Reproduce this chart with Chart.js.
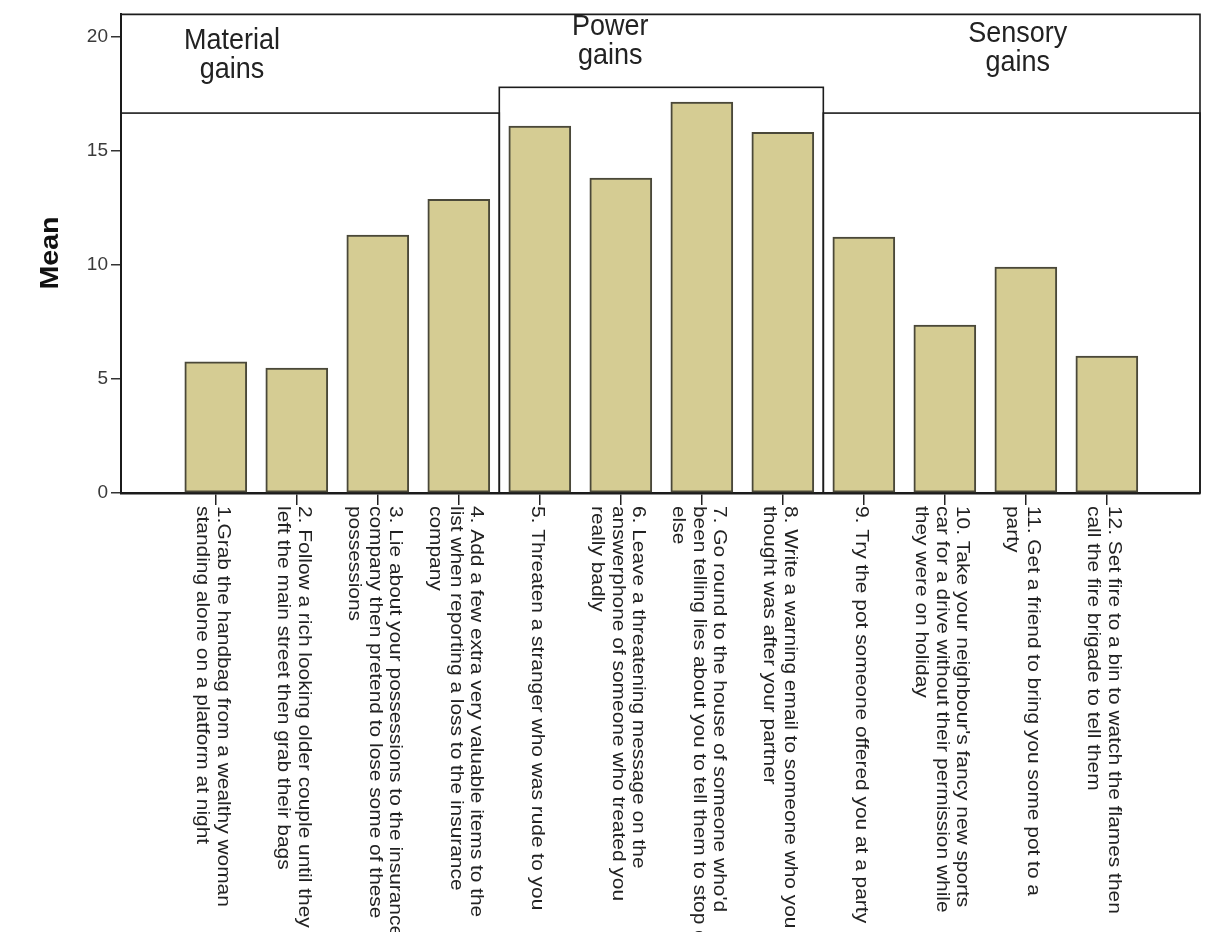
<!DOCTYPE html>
<html>
<head>
<meta charset="utf-8">
<script src="https://cdn.jsdelivr.net/npm/chart.js@4.4.1/dist/chart.umd.min.js"></script>
<style>
  html, body { margin: 0; padding: 0; background: #fff; }
</style>
</head>
<body>
<canvas id="chart" width="1206" height="932"></canvas>
<script>
// item labels, one array of lines per bar
const categories = [
    ["1.Grab the handbag from a wealthy woman", "standing alone on a platform at night"],
    ["2. Follow a rich looking older couple until they", "left the main street then grab their bags"],
    ["3. Lie about your possessions to the insurance", "company then pretend to lose some of these", "possessions"],
    ["4. Add a few extra very valuable items to the", "list when reporting a loss to the insurance", "company"],
    ["5. Threaten a stranger who was rude to you"],
    ["6. Leave a threatening message on the", "answerphone of someone who treated you", "really badly"],
    ["7. Go round to the house of someone who'd", "been telling lies about you to tell them to stop or", "else"],
    ["8. Write a warning email to someone who you", "thought was after your partner"],
    ["9. Try the pot someone offered you at a party"],
    ["10. Take your neighbour's fancy new sports", "car for a drive without their permission while", "they were on holiday"],
    ["11. Get a friend to bring you some pot to a", "party"],
    ["12. Set fire to a bin to watch the flames then", "call the fire brigade to tell them"]
];
const itemNumbers = [1, 2, 3, 4, 5, 6, 7, 8, 9, 10, 11, 12];
const means = [5.75, 5.48, 11.32, 12.89, 16.1, 13.82, 17.15, 15.83, 11.23, 7.37, 9.91, 6.01];
const yTicks = [0, 5, 10, 15, 20];

const groupNames = [["Material", "gains"], ["Power", "gains"], ["Sensory", "gains"]];
const groupFirst = [1, 5, 9];
const groupLast = [4, 8, 12];

const FONT = '"Liberation Sans", Arial, sans-serif';

// frames round the three groups and the header strip
const groupFrames = {
    id: 'groupFrames',
    beforeDatasetsDraw(chart, args, opts) {
        const { ctx, chartArea: a, scales: { x, y } } = chart;
        ctx.save();
        ctx.strokeStyle = '#1c1c1c';
        ctx.lineWidth = 1.6;
        ctx.beginPath();
        ctx.moveTo(a.left, a.top);
        ctx.lineTo(a.right, a.top);
        ctx.lineTo(a.right, a.bottom);
        ctx.stroke();
        for (let g = 0; g < groupFirst.length; g++) {
            const left = g === 0 ? a.left : x.getPixelForValue(groupFirst[g] - 0.5);
            const right = g === groupFirst.length - 1 ? a.right : x.getPixelForValue(groupLast[g] + 0.5);
            const top = y.getPixelForValue(opts.frameTops[g]);
            ctx.strokeRect(left, top, right - left, a.bottom - top);
        }
        // group captions
        ctx.fillStyle = '#222';
        ctx.font = '27px ' + FONT;
        ctx.textAlign = 'center';
        ctx.textBaseline = 'alphabetic';
        groupNames.forEach((lines, g) => {
            const cx = x.getPixelForValue(opts.captionX[g]);
            const by = y.getPixelForValue(opts.captionY[g]);
            lines.forEach((t, j) => {
                ctx.save();
                ctx.translate(cx, by + j * 29);
                ctx.scale(1, 1.08);
                ctx.fillText(t, 0, 0);
                ctx.restore();
            });
        });
        ctx.restore();
    },
    afterDraw(chart) {
        const { ctx, chartArea: a, scales: { x } } = chart;
        ctx.save();
        ctx.fillStyle = '#222';
        ctx.font = '19px ' + FONT;
        ctx.textAlign = 'left';
        ctx.textBaseline = 'middle';
        categories.forEach((lines, i) => {
            const px = x.getPixelForValue(itemNumbers[i]);
            const n = lines.length;
            lines.forEach((t, j) => {
                ctx.save();
                ctx.translate(px - 3 + ((n - 1) / 2 - j) * 20.5, a.bottom + 13);
                ctx.rotate(Math.PI / 2);
                ctx.scale(1.1, 1);
                ctx.fillText(t, 0, 0);
                ctx.restore();
            });
        });
        // y axis title
        ctx.font = 'bold 26px ' + FONT;
        ctx.textAlign = 'center';
        ctx.fillStyle = '#111';
        ctx.translate(51, 253);
        ctx.rotate(-Math.PI / 2);
        ctx.scale(1.1, 1);
        ctx.fillText('Mean', 0, 0);
        ctx.restore();
    }
};

new Chart(document.getElementById('chart'), {
    type: 'bar',
    data: {
        datasets: [{
            data: means.map((v, i) => ({ x: itemNumbers[i], y: v })),
            backgroundColor: '#d5cc93',
            borderColor: '#4a4839',
            borderWidth: 2,
            borderSkipped: false,
            barThickness: 62
        }]
    },
    options: {
        responsive: false,
        animation: false,
        layout: { padding: { top: 14, right: 6, bottom: 439, left: 0 } },
        plugins: {
            legend: { display: false },
            tooltip: { enabled: false },
            groupFrames: {
                frameTops: [16.67, 17.8, 16.67],
                captionX: [1.2, 5.87, 10.9],
                captionY: [19.47, 20.09, 19.78]
            }
        },
        scales: {
            x: {
                type: 'linear',
                offset: false,
                min: -0.17,
                max: 13.15,
                afterBuildTicks: s => { s.ticks = itemNumbers.map(v => ({ value: v })); },
                afterFit: s => { s.height = 0; },
                ticks: { display: false, autoSkip: false },
                grid: { offset: false, drawOnChartArea: false, tickLength: 12, color: '#222', lineWidth: 1.5 },
                border: { display: true, color: '#1a1a1a', width: 2.5 }
            },
            y: {
                min: 0,
                max: 21,
                afterBuildTicks: s => { s.ticks = yTicks.map(v => ({ value: v })); },
                afterFit: s => { s.width = 121; },
                ticks: { color: '#3a3a3a', font: { family: FONT, size: 19 }, padding: 3 },
                grid: { drawOnChartArea: false, tickLength: 10, color: '#333', lineWidth: 1.5 },
                border: { display: true, color: '#1a1a1a', width: 2 }
            }
        }
    },
    plugins: [groupFrames]
});
</script>
</body>
</html>
